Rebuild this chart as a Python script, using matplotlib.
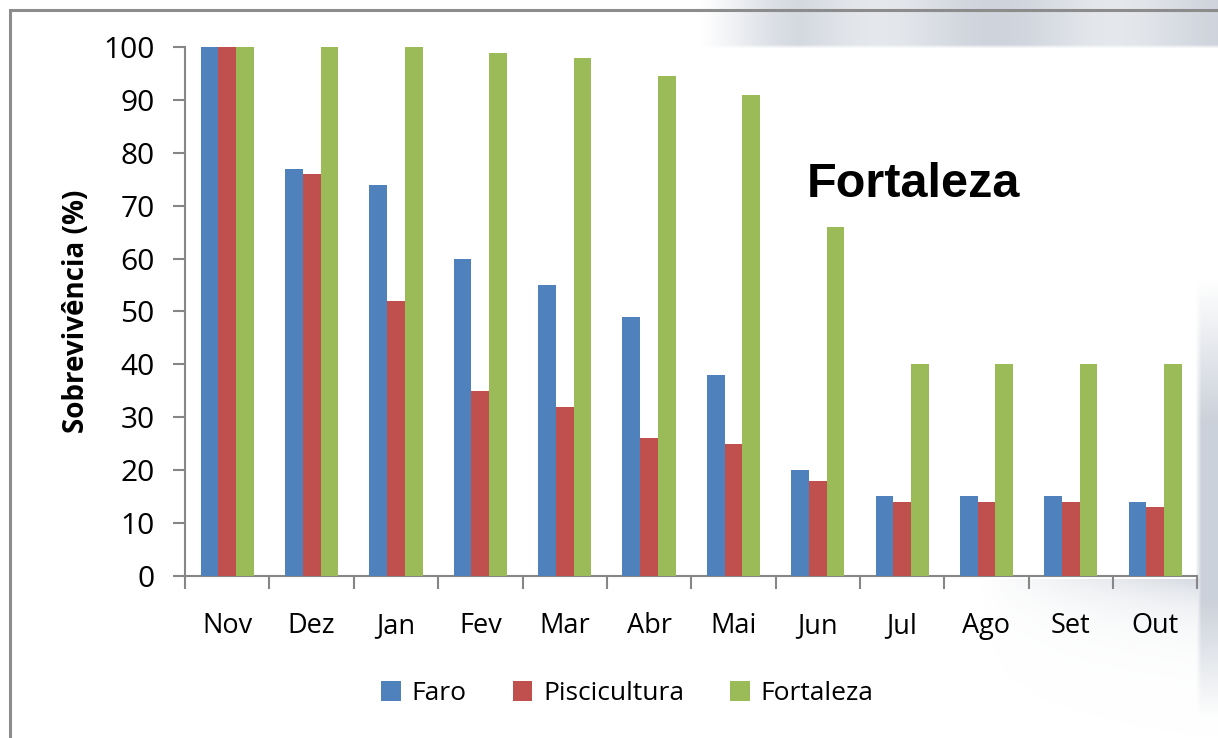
import numpy as np
import matplotlib.pyplot as plt
from matplotlib.patches import Rectangle

# survival per month (%)
meses = ["Nov", "Dez", "Jan", "Fev", "Mar", "Abr", "Mai", "Jun", "Jul", "Ago", "Set", "Out"]
faro = [100, 77, 74, 60, 55, 49, 38, 20, 15, 15, 15, 14]
piscicultura = [100, 76, 52, 35, 32, 26, 25, 18, 14, 14, 14, 13]
fortaleza = [100, 100, 100, 99, 98, 94.5, 91, 66, 40, 40, 40, 40]

series = ["Faro", "Piscicultura", "Fortaleza"]
cores = ["#4f81bd", "#c0504d", "#9bbb59"]

plt.rcParams['font.family'] = ['Open Sans', 'DejaVu Sans']

W, H = 1218, 738
fig = plt.figure(figsize=(W / 100, H / 100), dpi=100)

# soft grey slide decoration behind the chart (pixel grid of the figure)
yy, xx = np.mgrid[0:H, 0:W].astype(float)
def ramp(v, a, b):
    return np.clip((v - a) / (b - a), 0, 1)
top = ramp(xx, 700, 800) * (1 - ramp(yy, 44, 48)) * (0.55 + 0.45 * np.cos((xx - 760) / 75.0) ** 2)
right = ramp(xx, 1195, 1201) * ramp(yy, 280, 420) * (1 - ramp(yy, 600, 720))
shadow = ramp(xx, 980, 1200) * np.exp(-np.clip(yy - 578, 0, None) / 30.0) * (yy > 578)
alpha = np.clip(np.maximum.reduce([top * 0.85, right * 0.9, shadow * 0.75]), 0, 1)
rgba = np.zeros((H, W, 4))
rgba[..., 0], rgba[..., 1], rgba[..., 2] = 0.78, 0.80, 0.84
rgba[..., 3] = alpha
bg = fig.add_axes([0, 0, 1, 1], zorder=0)
bg.imshow(rgba, aspect='auto', interpolation='bilinear')
bg.axis('off')

# outer frame
fig.patches.append(Rectangle((0.008, -0.1), 1.2, 1.087, transform=fig.transFigure,
                             fill=False, edgecolor='#8c8c8c', linewidth=2.2, zorder=1))

ax = fig.add_axes([0.152, 0.22, 0.831, 0.716], zorder=2)
ax.patch.set_alpha(0)

x = np.arange(len(meses))
w = 0.21
for i, (vals, nome, c) in enumerate(zip([faro, piscicultura, fortaleza], series, cores)):
    ax.bar(x + (i - 1) * w, vals, width=w, color=c, label=nome, zorder=3)

ax.set_xlim(-0.5, len(meses) - 0.5)
ax.set_ylim(0, 100)
ax.set_yticks(np.arange(0, 101, 10))
ax.tick_params(axis='y', labelsize=21.5, length=9, width=1.5, color='#868686', pad=13)

ax.set_xticks(np.arange(len(meses) + 1) - 0.5)
ax.set_xticklabels([])
ax.tick_params(axis='x', which='major', length=9, width=1.5, color='#868686')
ax.set_xticks(x, minor=True)
ax.set_xticklabels(meses, minor=True)
ax.tick_params(axis='x', which='minor', length=0, labelsize=19.5, pad=26)

for s in ['top', 'right']:
    ax.spines[s].set_visible(False)
for s in ['left', 'bottom']:
    ax.spines[s].set_color('#868686')
    ax.spines[s].set_linewidth(1.5)

ax.set_ylabel("Sobrevivência (%)", fontsize=20, fontweight='bold')
ax.yaxis.set_label_coords(-0.093, 0.5)

ax.text(0.614, 0.74, "Fortaleza", transform=ax.transAxes, fontsize=35,
        fontweight='bold', family='Liberation Sans', va='center', ha='left')

fig.legend(loc='center', bbox_to_anchor=(0.515, 0.06), ncol=3, frameon=False,
           fontsize=19, handlelength=0.75, handleheight=0.75, handletextpad=0.4,
           columnspacing=1.75)

fig.savefig("out.png", dpi=100)
